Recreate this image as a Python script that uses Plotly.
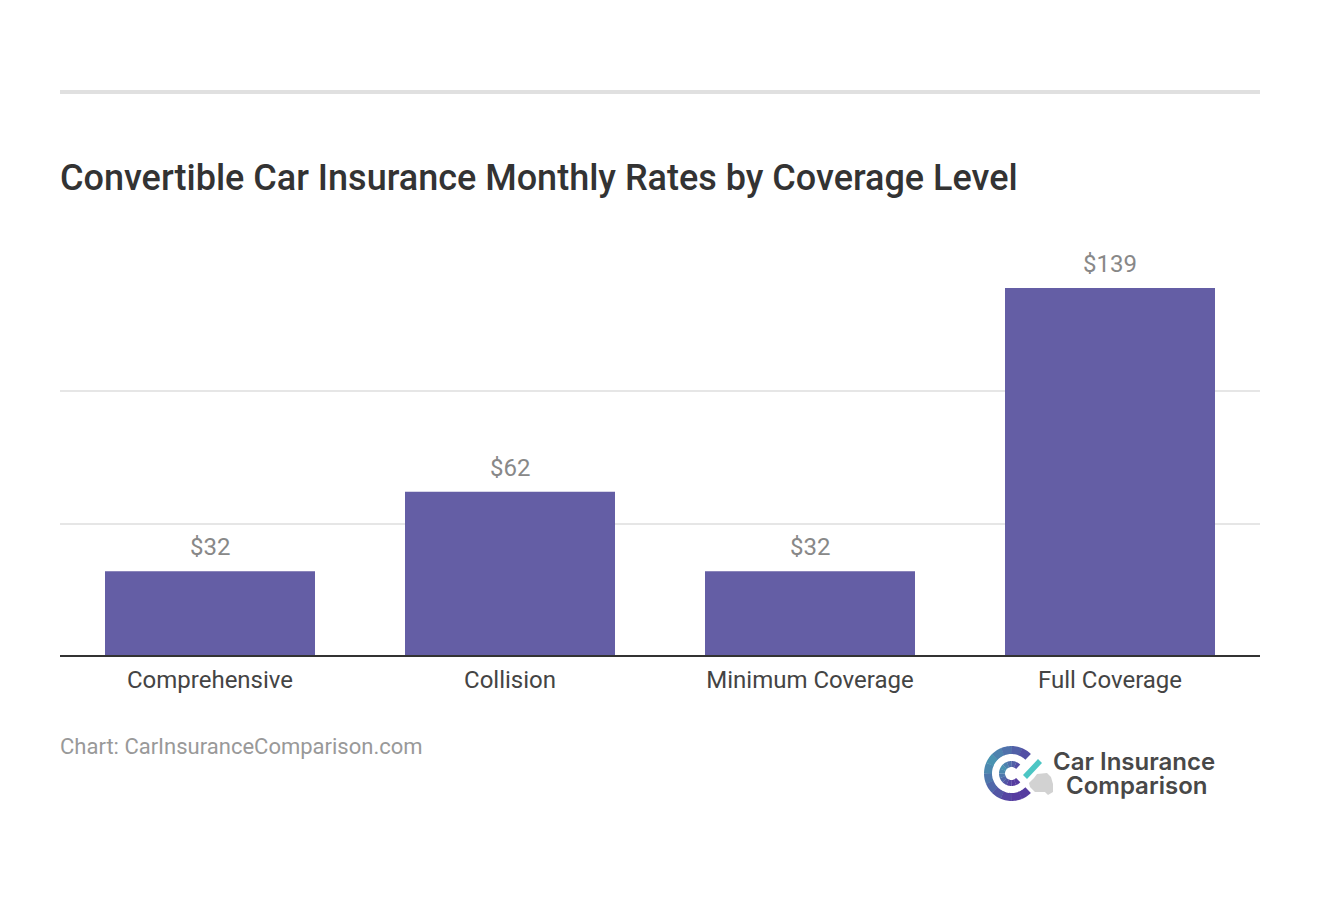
import numpy as np
import plotly.graph_objects as go

# chart values
categories = ["Comprehensive", "Collision", "Minimum Coverage", "Full Coverage"]
rates = [32, 62, 32, 139]
rate_labels = ["$32", "$62", "$32", "$139"]
grid_ticks = [50, 100]

title_text = "Convertible Car Insurance Monthly Rates by Coverage Level"
source_text = "Chart: CarInsuranceComparison.com"

WIDTH, HEIGHT = 1320, 914
LEFT, RIGHT = 60, 1260
TOP, BOTTOM = 244, 656
Y_MAX = 155.62


def px(x):
    return (x - LEFT) / (RIGHT - LEFT)


def py(y):
    return (BOTTOM - y) / (BOTTOM - TOP)


def arc_path(cx, cy, r, start, end):
    # angles in degrees, 0 = east, counted clockwise on screen
    pts = []
    for a in np.radians(np.linspace(start, end, 8)):
        pts.append(f"{px(cx + r * np.cos(a)):.5f} {py(cy + r * np.sin(a)):.5f}")
    return "M " + " L ".join(pts)


def mix(c1, c2, t):
    return "rgb(%d,%d,%d)" % tuple(round(a + (b - a) * t) for a, b in zip(c1, c2))


def poly_path(points):
    return "M " + " L ".join(f"{px(x):.5f} {py(y):.5f}" for x, y in points) + " Z"


fig = go.Figure(
    go.Bar(
        x=categories,
        y=rates,
        cliponaxis=False,
        marker=dict(color="#645ea5", line=dict(width=0)),
        width=0.7,
        hoverinfo="skip",
    )
)

shapes = [
    dict(
        type="rect", xref="paper", yref="paper",
        x0=0, x1=1, y0=py(94), y1=py(90),
        fillcolor="#e0e0e0", line=dict(width=0),
    ),
    # baseline sits centred on zero, over the foot of the bars
    dict(
        type="line", xref="paper", yref="paper",
        x0=0, x1=1, y0=0, y1=0,
        line=dict(color="#333333", width=2),
    ),
]

# logo: two gradient rings, a tick and a small car
teal_blue = (74, 150, 178)
purple = (86, 60, 160)
ring_steps = [(45 + i * 22.5, 45 + (i + 1) * 22.5 + 1) for i in range(12)]
for r, w in [(23.5, 8), (9.5, 6)]:
    for start, end in ring_steps:
        mid = (start + end) / 2
        # bluest on the upper left, purple towards the bottom and right
        t = min(abs(((mid - 210) + 180) % 360 - 180) / 120, 1)
        shapes.append(
            dict(
                type="path", xref="paper", yref="paper",
                path=arc_path(1011.5, 773.5, r, start, min(end, 315)),
                line=dict(color=mix(teal_blue, purple, t), width=w),
            )
        )
car_body = [
    (1029, 783), (1034, 778), (1037, 774), (1047, 773), (1051, 777), (1053, 784),
    (1053, 792), (1048, 795), (1045, 792), (1035, 792), (1030, 787),
]
shapes.append(
    dict(
        type="path", xref="paper", yref="paper",
        path=poly_path(car_body), fillcolor="#d2d2d2", line=dict(width=0),
    )
)
shapes.append(
    dict(
        type="path", xref="paper", yref="paper",
        path=f"M {px(1025):.5f} {py(777):.5f} L {px(1040):.5f} {py(761):.5f}",
        line=dict(color="#4cc6c4", width=5.5),
    )
)

annotations = [
    dict(
        text=title_text, xref="paper", yref="paper", x=px(58), y=py(178),
        xanchor="left", yanchor="middle", showarrow=False,
        font=dict(family="Roboto", size=36, color="#333333", weight=500),
    ),
    dict(
        text=source_text, xref="paper", yref="paper", x=px(58), y=py(746.6),
        xanchor="left", yanchor="middle", showarrow=False,
        font=dict(family="Roboto", size=22, color="#999999"),
    ),
    dict(
        text="Car Insurance", xref="paper", yref="paper", x=px(1134), y=py(761.5),
        xanchor="center", yanchor="middle", showarrow=False,
        font=dict(family="Inter", size=24, color="#484848", weight=600),
    ),
    dict(
        text="Comparison", xref="paper", yref="paper", x=px(1136.5), y=py(785.5),
        xanchor="center", yanchor="middle", showarrow=False,
        font=dict(family="Inter", size=24, color="#484848", weight=600),
    ),
]
for cat, rate, label in zip(categories, rates, rate_labels):
    annotations.append(
        dict(
            text=label, x=cat, y=rate, yanchor="bottom", yshift=8, showarrow=False,
            font=dict(family="Roboto", size=24, color="#888888"),
        )
    )

fig.update_layout(
    width=WIDTH,
    height=HEIGHT,
    margin=dict(l=LEFT, r=WIDTH - RIGHT, t=TOP, b=HEIGHT - BOTTOM, pad=0),
    paper_bgcolor="white",
    plot_bgcolor="white",
    showlegend=False,
    shapes=shapes,
    annotations=annotations,
    font=dict(family="Roboto"),
)
fig.update_xaxes(
    showline=False,
    ticks="outside", ticklen=2, tickcolor="rgba(0,0,0,0)",
    tickfont=dict(family="Roboto", size=24, color="#444444"),
    showgrid=False, fixedrange=True,
)
fig.update_yaxes(
    range=[0, Y_MAX], tickvals=grid_ticks, showticklabels=False, ticks="",
    showgrid=True, gridcolor="#e6e6e6", gridwidth=2, zeroline=False, fixedrange=True,
)

fig.write_html("out.html", config=dict(displayModeBar=False),
               post_script="document.body.style.margin='0';")
